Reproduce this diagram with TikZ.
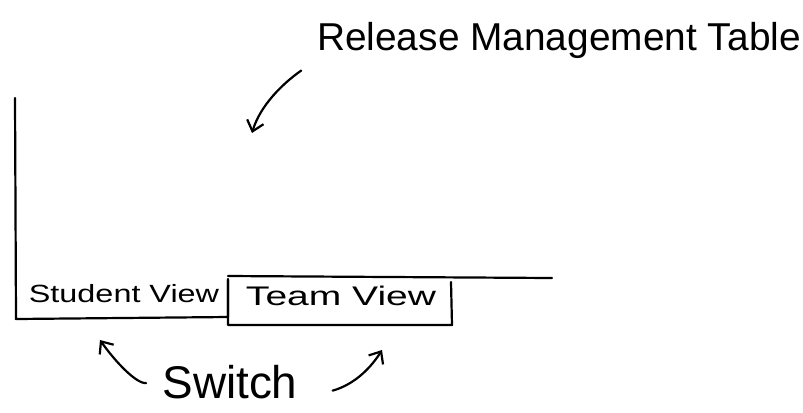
\documentclass[tikz,border=0pt]{standalone}
\usepackage{fontspec}
\setmainfont{Liberation Sans}
\usetikzlibrary{arrows.meta}

\begin{document}
\begin{tikzpicture}[x=1bp,y=-1bp,>={Straight Barb[length=10bp,width=17bp]},line width=2.2bp,line join=round,line cap=round]
\useasboundingbox (0,0) rectangle (803,412);
%%
\node (node_title) at (559,40) [font=\fontsize{39}{42}\selectfont] {Release Management Table};
  \node (node_student) at (124,294) [font=\fontsize{25}{28}\selectfont] {\scalebox{1.3}[1]{Student View}};
  \node (node_team) at (341,296) [font=\fontsize{27}{30}\selectfont] {\scalebox{1.45}[1]{Team View}};
  \node (node_switch) at (230,382) [font=\fontsize{46}{50}\selectfont] {Switch};
  \coordinate (tip_table) at (252,133);
  \coordinate (tip_student) at (100,340);
  \coordinate (tip_team) at (382,350);
  % table frame and the two tabs
  \draw (15,98) -- (16,319) -- (228,317) -- (228,280);
  \draw (228,276) -- (552,278);
  \draw (228,279) -- (228,325) -- (452,325) -- (451,282);
  % arrows
  \draw [->,shorten <=14bp] (node_title.south west) ..controls (282,84) and (260,106)  .. (tip_table);
  \draw [->,shorten <=12bp] (node_switch.west) ..controls (136,384) and (114,360)  .. (tip_student);
  \draw [->,shorten <=46bp] (node_switch.-20) ..controls (356,384) and (372,366)  .. (tip_team);
%
\end{tikzpicture}
\end{document}
